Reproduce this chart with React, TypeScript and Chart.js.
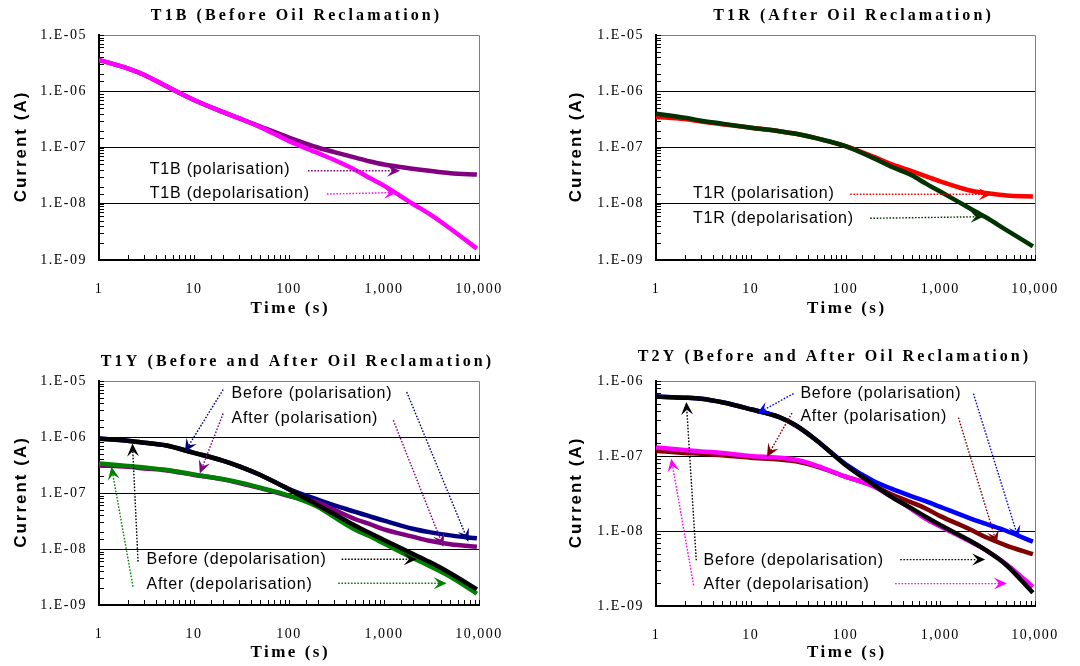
import React, { useEffect, useRef } from 'react';
import { Chart, registerables } from 'chart.js';

Chart.register(...registerables);

// ---------- DATA ----------
const times = [1, 2, 3, 5, 10, 20, 30, 50, 100, 200, 300, 500, 700, 1000, 2000, 3000, 5000, 9500];

const xTickLabels = ['1', '10', '100', '1,000', '10,000'];

// T1B (Before Oil Reclamation)
const t1bPolarisation = [3.6e-6, 2.55e-6, 1.95e-6, 1.25e-6, 7.0e-7, 4.3e-7, 3.3e-7, 2.35e-7, 1.5e-7, 1.0e-7, 8.3e-8, 6.6e-8, 5.7e-8, 5.0e-8, 4.2e-8, 3.85e-8, 3.5e-8, 3.3e-8];
const t1bDepolarisation = [3.6e-6, 2.55e-6, 1.95e-6, 1.25e-6, 7.0e-7, 4.3e-7, 3.3e-7, 2.3e-7, 1.3e-7, 8.0e-8, 6.0e-8, 4.0e-8, 2.9e-8, 2.1e-8, 1.0e-8, 6.6e-9, 3.6e-9, 1.6e-9];

// T1R (After Oil Reclamation)
const t1rPolarisation = [3.5e-7, 3.2e-7, 2.9e-7, 2.6e-7, 2.25e-7, 1.95e-7, 1.75e-7, 1.45e-7, 1.06e-7, 6.8e-8, 5.1e-8, 3.8e-8, 3.1e-8, 2.5e-8, 1.74e-8, 1.55e-8, 1.4e-8, 1.35e-8];
const t1rDepolarisation = [4.0e-7, 3.4e-7, 3.0e-7, 2.65e-7, 2.25e-7, 1.95e-7, 1.75e-7, 1.45e-7, 1.06e-7, 6.4e-8, 4.6e-8, 3.2e-8, 2.3e-8, 1.65e-8, 8.5e-9, 5.8e-9, 3.4e-9, 1.75e-9];

// T1Y (Before and After Oil Reclamation)
const t1yBeforePolarisation = [9.4e-7, 8.6e-7, 7.9e-7, 7.1e-7, 5.2e-7, 3.8e-7, 3.0e-7, 2.1e-7, 1.18e-7, 7.6e-8, 6.0e-8, 4.6e-8, 3.85e-8, 3.2e-8, 2.3e-8, 2.0e-8, 1.75e-8, 1.55e-8];
const t1yAfterPolarisation = [3.1e-7, 2.95e-7, 2.75e-7, 2.55e-7, 2.1e-7, 1.75e-7, 1.5e-7, 1.22e-7, 8.8e-8, 6.8e-8, 5.0e-8, 3.4e-8, 2.8e-8, 2.25e-8, 1.66e-8, 1.4e-8, 1.22e-8, 1.1e-8];
const t1yBeforeDepolarisation = [9.3e-7, 8.6e-7, 7.9e-7, 7.1e-7, 5.2e-7, 3.8e-7, 3.0e-7, 2.1e-7, 1.16e-7, 6.1e-8, 4.2e-8, 2.6e-8, 1.95e-8, 1.45e-8, 8.2e-9, 5.9e-9, 3.7e-9, 1.9e-9];
const t1yAfterDepolarisation = [3.35e-7, 3.05e-7, 2.85e-7, 2.6e-7, 2.15e-7, 1.78e-7, 1.55e-7, 1.25e-7, 9.0e-8, 5.7e-8, 3.7e-8, 2.2e-8, 1.7e-8, 1.25e-8, 6.9e-9, 5.0e-9, 3.2e-9, 1.6e-9];

// T2Y (Before and After Oil Reclamation)
const t2yBeforePolarisation = [6.2e-7, 6.0e-7, 5.8e-7, 5.2e-7, 4.2e-7, 3.3e-7, 2.55e-7, 1.6e-7, 7.8e-8, 4.6e-8, 3.7e-8, 2.9e-8, 2.5e-8, 2.1e-8, 1.5e-8, 1.25e-8, 1.0e-8, 7.2e-9];
const t2yAfterPolarisation = [1.17e-7, 1.1e-7, 1.07e-7, 1.02e-7, 9.5e-8, 9.0e-8, 8.5e-8, 7.2e-8, 5.3e-8, 4.0e-8, 3.1e-8, 2.4e-8, 2.0e-8, 1.58e-8, 1.07e-8, 8.3e-9, 6.4e-9, 4.9e-9];
const t2yBeforeDepolarisation = [6.2e-7, 6.0e-7, 5.8e-7, 5.2e-7, 4.2e-7, 3.3e-7, 2.55e-7, 1.6e-7, 7.6e-8, 4.1e-8, 2.9e-8, 2.0e-8, 1.55e-8, 1.2e-8, 7.6e-9, 5.6e-9, 3.5e-9, 1.5e-9];
const t2yAfterDepolarisation = [1.3e-7, 1.2e-7, 1.15e-7, 1.1e-7, 1.0e-7, 9.5e-8, 8.9e-8, 7.4e-8, 5.3e-8, 3.9e-8, 2.9e-8, 1.95e-8, 1.45e-8, 1.15e-8, 7.4e-9, 5.6e-9, 3.6e-9, 1.8e-9];

// ---------- TYPES / CONFIG ----------
type Series = { label: string; values: number[]; color: string };
type Arrow = { from: [number, number]; to: [number, number] };
type Note = { text: string; at: [number, number]; color: string; arrows: Arrow[] };
type Panel = {
  title: string;
  left: number;
  top: number;
  area: { left: number; top: number; right: number; bottom: number };
  yMin: number;
  yMax: number;
  titlePos: [number, number];
  yTitleX: number;
  xTitleOffset: number;
  series: Series[]; // first = drawn on top
  notes: Note[];
};

const W = 540;
const H = 333;

const panels: Panel[] = [
  {
    title: 'T1B (Before Oil Reclamation)',
    left: 0, top: 0,
    area: { left: 99, top: 35, right: 479, bottom: 260 },
    yMin: 1e-9, yMax: 1e-5,
    titlePos: [295, 16], yTitleX: 21, xTitleOffset: 49,
    series: [
      { label: 'T1B (depolarisation)', values: t1bDepolarisation, color: '#FF00FF' },
      { label: 'T1B (polarisation)', values: t1bPolarisation, color: '#800080' },
    ],
    notes: [
      { text: 'T1B (polarisation)', at: [0.534, -7.388], color: '#800080', arrows: [{ from: [2.199, -7.412], to: [3.169, -7.412] }] },
      { text: 'T1B (depolarisation)', at: [0.534, -7.814], color: '#FF00FF', arrows: [{ from: [2.399, -7.827], to: [3.137, -7.80] }] },
    ],
  },
  {
    title: 'T1R (After Oil Reclamation)',
    left: 540, top: 0,
    area: { left: 116, top: 35, right: 495, bottom: 260 },
    yMin: 1e-9, yMax: 1e-5,
    titlePos: [312, 16], yTitleX: 36, xTitleOffset: 49,
    series: [
      { label: 'T1R (depolarisation)', values: t1rDepolarisation, color: '#003300' },
      { label: 'T1R (polarisation)', values: t1rPolarisation, color: '#FF0000' },
    ],
    notes: [
      { text: 'T1R (polarisation)', at: [0.39, -7.814], color: '#FF0000', arrows: [{ from: [2.05, -7.832], to: [3.544, -7.832] }] },
      { text: 'T1R (depolarisation)', at: [0.39, -8.259], color: '#003300', arrows: [{ from: [2.261, -8.259], to: [3.456, -8.23] }] },
    ],
  },
  {
    title: 'T1Y (Before and After Oil Reclamation)',
    left: 0, top: 333,
    area: { left: 99, top: 48, right: 479, bottom: 272 },
    yMin: 1e-9, yMax: 1e-5,
    titlePos: [296, 29], yTitleX: 21, xTitleOffset: 48,
    series: [
      { label: 'Before (depolarisation)', values: t1yBeforeDepolarisation, color: '#000000' },
      { label: 'After (depolarisation)', values: t1yAfterDepolarisation, color: '#008000' },
      { label: 'After (polarisation)', values: t1yAfterPolarisation, color: '#800080' },
      { label: 'Before (polarisation)', values: t1yBeforePolarisation, color: '#000080' },
    ],
    notes: [
      { text: 'Before (polarisation)', at: [1.395, -5.225], color: '#000080', arrows: [
        { from: [1.307, -5.153], to: [0.903, -6.266] },
        { from: [3.239, -5.196], to: [3.888, -7.87] },
      ] },
      { text: 'After (polarisation)', at: [1.395, -5.67], color: '#800080', arrows: [
        { from: [1.307, -5.581], to: [1.061, -6.651] },
        { from: [3.098, -5.701], to: [3.625, -7.959] },
      ] },
      { text: 'Before (depolarisation)', at: [0.499, -8.196], color: '#000000', arrows: [
        { from: [0.411, -8.226], to: [0.352, -6.116] },
        { from: [2.554, -8.184], to: [3.345, -8.184] },
      ] },
      { text: 'After (depolarisation)', at: [0.499, -8.642], color: '#008000', arrows: [
        { from: [0.358, -8.672], to: [0.131, -6.533] },
        { from: [2.518, -8.611], to: [3.66, -8.611] },
      ] },
    ],
  },
  {
    title: 'T2Y (Before and After Oil Reclamation)',
    left: 540, top: 333,
    area: { left: 116, top: 48, right: 495, bottom: 273 },
    yMin: 1e-9, yMax: 1e-6,
    titlePos: [293, 24], yTitleX: 36, xTitleOffset: 47,
    series: [
      { label: 'Before (depolarisation)', values: t2yBeforeDepolarisation, color: '#000000' },
      { label: 'After (depolarisation)', values: t2yAfterDepolarisation, color: '#FF00FF' },
      { label: 'After (polarisation)', values: t2yAfterPolarisation, color: '#800000' },
      { label: 'Before (polarisation)', values: t2yBeforePolarisation, color: '#0000FF' },
    ],
    notes: [
      { text: 'Before (polarisation)', at: [1.524, -6.168], color: '#0000FF', arrows: [
        { from: [1.452, -6.168], to: [1.065, -6.435] },
        { from: [3.35, -6.168], to: [3.825, -8.101] },
      ] },
      { text: 'After (polarisation)', at: [1.524, -6.48], color: '#800000', arrows: [
        { from: [1.435, -6.427], to: [1.171, -7.013] },
        { from: [3.192, -6.488], to: [3.597, -8.168] },
      ] },
      { text: 'Before (depolarisation)', at: [0.502, -8.391], color: '#000000', arrows: [
        { from: [0.425, -8.391], to: [0.32, -6.28] },
        { from: [2.577, -8.381], to: [3.474, -8.381] },
      ] },
      { text: 'After (depolarisation)', at: [0.502, -8.715], color: '#FF00FF', arrows: [
        { from: [0.397, -8.724], to: [0.161, -7.035] },
        { from: [2.524, -8.701], to: [3.703, -8.701] },
      ] },
    ],
  },
];

// ---------- HELPERS ----------
const isPow10 = (v: number) => {
  const l = Math.log10(v);
  return Math.abs(l - Math.round(l)) < 1e-6;
};
const fmtY = (v: number) => {
  const e = Math.round(Math.log10(v));
  return '1.E-' + String(-e).padStart(2, '0');
};
const fmtX = (v: number) => {
  const e = Math.round(Math.log10(v));
  return xTickLabels[e] ?? String(v);
};

function drawText(
  ctx: CanvasRenderingContext2D, text: string, x: number, y: number,
  font: string, spacing: number, align: CanvasTextAlign, color: string, angle = 0,
) {
  ctx.save();
  ctx.font = font;
  (ctx as any).letterSpacing = spacing + 'px';
  ctx.fillStyle = color;
  ctx.textBaseline = 'middle';
  ctx.textAlign = align;
  ctx.translate(x, y);
  if (angle) ctx.rotate(angle);
  ctx.fillText(text, align === 'center' ? spacing / 2 : 0, 0);
  ctx.restore();
}

function drawArrow(ctx: CanvasRenderingContext2D, x1: number, y1: number, x2: number, y2: number, color: string) {
  const a = Math.atan2(y2 - y1, x2 - x1);
  const c = Math.cos(a);
  const s = Math.sin(a);
  const L = 13;
  const Wd = 6;
  const nx = x2 - c * L * 0.6;
  const ny = y2 - s * L * 0.6;
  ctx.save();
  ctx.strokeStyle = color;
  ctx.lineWidth = 1.4;
  ctx.setLineDash([1.6, 1.6]);
  ctx.beginPath();
  ctx.moveTo(x1, y1);
  ctx.lineTo(nx, ny);
  ctx.stroke();
  ctx.setLineDash([]);
  ctx.fillStyle = color;
  ctx.beginPath();
  ctx.moveTo(x2, y2);
  ctx.lineTo(x2 - c * L - s * Wd, y2 - s * L + c * Wd);
  ctx.lineTo(nx, ny);
  ctx.lineTo(x2 - c * L + s * Wd, y2 - s * L - c * Wd);
  ctx.closePath();
  ctx.fill();
  ctx.restore();
}

const TICK_SPACING = '1.5px';

function makeDecor(p: Panel) {
  return {
    id: 'panelDecor',
    beforeLayout(chart: any) {
      chart.ctx.letterSpacing = TICK_SPACING;
    },
    beforeDraw(chart: any) {
      chart.ctx.letterSpacing = TICK_SPACING;
    },
    beforeDatasetsDraw(chart: any) {
      const ctx: CanvasRenderingContext2D = chart.ctx;
      const { left, top, right, bottom } = chart.chartArea;
      ctx.save();
      ctx.strokeStyle = '#808080';
      ctx.lineWidth = 1;
      ctx.beginPath();
      ctx.moveTo(left, Math.round(top) + 0.5);
      ctx.lineTo(Math.round(right) + 0.5, Math.round(top) + 0.5);
      ctx.lineTo(Math.round(right) + 0.5, bottom);
      ctx.stroke();
      // inward tick marks
      ctx.strokeStyle = '#000';
      const ys = chart.scales.y;
      ys.ticks.forEach((t: any) => {
        const py = Math.round(ys.getPixelForValue(t.value)) + 0.5;
        ctx.beginPath();
        ctx.moveTo(left, py);
        ctx.lineTo(left + 5, py);
        ctx.stroke();
      });
      const xs = chart.scales.x;
      xs.ticks.forEach((t: any) => {
        const px = Math.round(xs.getPixelForValue(t.value)) + 0.5;
        ctx.beginPath();
        ctx.moveTo(px, bottom);
        ctx.lineTo(px, bottom - 5);
        ctx.stroke();
      });
      ctx.restore();
    },
    afterDatasetsDraw(chart: any) {
      const ctx: CanvasRenderingContext2D = chart.ctx;
      const xs = chart.scales.x;
      const ys = chart.scales.y;
      const px = (l: number) => xs.getPixelForValue(Math.pow(10, l));
      const py = (l: number) => ys.getPixelForValue(Math.pow(10, l));
      p.notes.forEach((n) => {
        n.arrows.forEach((a) => drawArrow(ctx, px(a.from[0]), py(a.from[1]), px(a.to[0]), py(a.to[1]), n.color));
        drawText(ctx, n.text, px(n.at[0]), py(n.at[1]), '16px "Liberation Sans", Arial, sans-serif', 0.8, 'left', '#000');
      });
    },
    afterDraw(chart: any) {
      const ctx: CanvasRenderingContext2D = chart.ctx;
      const { left, top, right, bottom } = chart.chartArea;
      drawText(ctx, p.title, p.titlePos[0], p.titlePos[1], 'bold 16px "Liberation Serif", "Times New Roman", serif', 3.1, 'center', '#000');
      drawText(ctx, 'Time (s)', (left + right) / 2, bottom + p.xTitleOffset, 'bold 17px "Liberation Serif", "Times New Roman", serif', 2.5, 'center', '#000');
      drawText(ctx, 'Current (A)', p.yTitleX, (top + bottom) / 2, 'bold 17px "Liberation Sans", Arial, sans-serif', 2, 'center', '#000', -Math.PI / 2);
    },
  };
}

function PanelChart({ p }: { p: Panel }) {
  const ref = useRef<HTMLCanvasElement>(null);
  useEffect(() => {
    const canvas = ref.current!;
    const chart = new Chart(canvas, {
      type: 'line',
      data: {
        datasets: p.series.map((s) => ({
          label: s.label,
          data: times.map((t, i) => ({ x: t, y: s.values[i] })),
          borderColor: s.color,
          backgroundColor: s.color,
          borderWidth: 4.5,
          pointRadius: 0,
          cubicInterpolationMode: 'monotone' as const,
          fill: false,
        })),
      },
      options: {
        animation: false,
        responsive: false,
        devicePixelRatio: 1,
        events: [],
        layout: { padding: { left: 0, top: p.area.top, right: W - p.area.right, bottom: 0 } },
        plugins: { legend: { display: false }, tooltip: { enabled: false }, title: { display: false } },
        scales: {
          x: {
            type: 'logarithmic',
            min: 1,
            max: 10000,
            afterFit: (s: any) => { s.height = H - p.area.bottom; },
            grid: { display: false },
            border: { display: true, color: '#000', width: 2 },
            ticks: {
              autoSkip: false,
              maxRotation: 0,
              padding: 13,
              color: '#000',
              font: { family: '"Liberation Serif", "Times New Roman", serif', size: 14 },
              callback: (v: any) => (isPow10(Number(v)) ? fmtX(Number(v)) : ''),
            },
          },
          y: {
            type: 'logarithmic',
            min: p.yMin,
            max: p.yMax,
            afterFit: (s: any) => { s.width = p.area.left; },
            grid: {
              drawTicks: false,
              lineWidth: 1,
              color: (c: any) => {
                const v = c.tick ? c.tick.value : 0;
                if (!v || !isPow10(v)) return 'rgba(0,0,0,0)';
                if (Math.abs(v / p.yMax - 1) < 1e-6 || Math.abs(v / p.yMin - 1) < 1e-6) return 'rgba(0,0,0,0)';
                return '#000';
              },
            },
            border: { display: true, color: '#000', width: 2 },
            ticks: {
              autoSkip: false,
              padding: 12,
              color: '#000',
              font: { family: '"Liberation Serif", "Times New Roman", serif', size: 14 },
              callback: (v: any) => (isPow10(Number(v)) ? fmtY(Number(v)) : ''),
            },
          },
        },
      } as any,
      plugins: [makeDecor(p)],
    });
    return () => chart.destroy();
  }, [p]);
  return (
    <canvas
      ref={ref}
      width={W}
      height={H}
      style={{ position: 'absolute', left: p.left, top: p.top, width: W, height: H }}
    />
  );
}

export default function App() {
  return (
    <div style={{ position: 'absolute', left: 0, top: 0, width: 1080, height: 666, background: '#fff', overflow: 'hidden' }}>
      {panels.map((p) => (
        <PanelChart key={p.title} p={p} />
      ))}
    </div>
  );
}
